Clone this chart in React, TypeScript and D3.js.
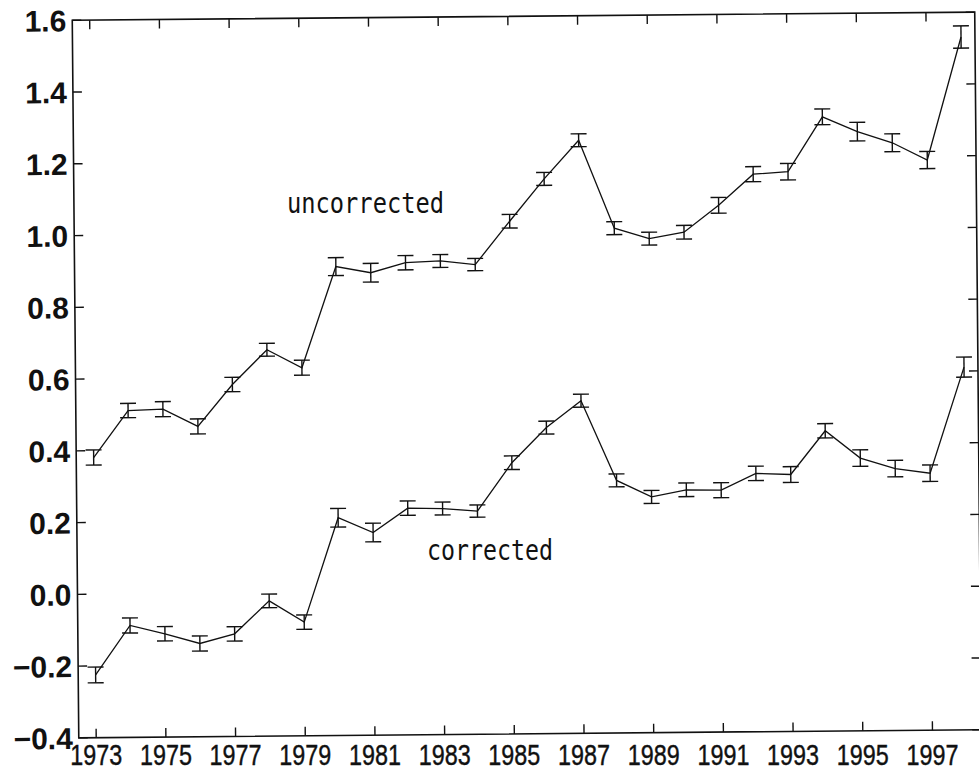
import React from "react";
import * as d3 from "d3";

// yearly values
const years = [
  1973, 1974, 1975, 1976, 1977, 1978, 1979, 1980, 1981, 1982, 1983, 1984, 1985,
  1986, 1987, 1988, 1989, 1990, 1991, 1992, 1993, 1994, 1995, 1996, 1997, 1998,
];
const uncorrected = [
  0.381, 0.511, 0.514, 0.465, 0.581, 0.677, 0.626, 0.907, 0.889, 0.916, 0.92,
  0.909, 1.029, 1.146, 1.253, 1.007, 0.977, 0.994, 1.068, 1.154, 1.16, 1.312,
  1.27, 1.238, 1.189, 1.531,
];
const uncorrectedErr = [
  0.021, 0.02, 0.021, 0.021, 0.02, 0.018, 0.021, 0.025, 0.026, 0.02, 0.018,
  0.017, 0.019, 0.018, 0.018, 0.018, 0.018, 0.019, 0.022, 0.021, 0.023, 0.022,
  0.026, 0.025, 0.024, 0.031,
];
const corrected = [
  -0.225, -0.088, -0.112, -0.14, -0.114, -0.023, -0.083, 0.207, 0.165, 0.232,
  0.23, 0.222, 0.356, 0.453, 0.527, 0.304, 0.257, 0.276, 0.274, 0.32, 0.316,
  0.437, 0.36, 0.33, 0.316, 0.611,
];
const correctedErr = [
  0.022, 0.021, 0.02, 0.021, 0.02, 0.019, 0.02, 0.026, 0.026, 0.02, 0.018,
  0.017, 0.019, 0.018, 0.018, 0.018, 0.018, 0.019, 0.021, 0.02, 0.022, 0.02,
  0.023, 0.023, 0.023, 0.028,
];
const xTickYears = [
  1973, 1975, 1977, 1979, 1981, 1983, 1985, 1987, 1989, 1991, 1993, 1995, 1997,
];
const yTicks = [-0.4, -0.2, 0, 0.2, 0.4, 0.6, 0.8, 1.0, 1.2, 1.4, 1.6];

const W = 979;
const H = 773;
const plot = { left: 75.5, right: 978, top: 16.2, bottom: 733.8 };
// the scanned figure sits slightly tilted
const tilt = -0.52;
const cx = (plot.left + plot.right) / 2;
const cy = (plot.top + plot.bottom) / 2;

const x = d3.scaleLinear().domain([1972.5, 1998.4]).range([plot.left, plot.right]);
const y = d3.scaleLinear().domain([-0.4, 1.6]).range([plot.bottom, plot.top]);

const rad = (tilt * Math.PI) / 180;
const rotX = (px: number, py: number) =>
  cx + (px - cx) * Math.cos(rad) - (py - cy) * Math.sin(rad);

const fmt = d3.format(".1f");
const tickLen = 9;
const capW = 8;
const ink = "#111";

type Pt = { year: number; v: number; e: number };

const Series = ({ pts }: { pts: Pt[] }) => {
  const line = d3
    .line<Pt>()
    .x((d) => x(d.year))
    .y((d) => y(d.v));
  return (
    <g>
      <path d={line(pts) || ""} fill="none" stroke={ink} strokeWidth={1.3} />
      {pts.map((d) => (
        <g key={d.year} stroke={ink} strokeWidth={1.4}>
          <line x1={x(d.year)} x2={x(d.year)} y1={y(d.v - d.e)} y2={y(d.v + d.e)} />
          <line x1={x(d.year) - capW} x2={x(d.year) + capW} y1={y(d.v + d.e)} y2={y(d.v + d.e)} />
          <line x1={x(d.year) - capW} x2={x(d.year) + capW} y1={y(d.v - d.e)} y2={y(d.v - d.e)} />
        </g>
      ))}
    </g>
  );
};

export default function App() {
  const upper = years.map((year, i) => ({ year, v: uncorrected[i], e: uncorrectedErr[i] }));
  const lower = years.map((year, i) => ({ year, v: corrected[i], e: correctedErr[i] }));

  return (
    <svg
      width={W}
      height={H}
      style={{ position: "absolute", left: 0, top: 0, background: "#fff" }}
    >
      <g transform={`rotate(${tilt} ${cx} ${cy})`}>
        {/* frame */}
        <rect
          x={plot.left}
          y={plot.top}
          width={plot.right - plot.left}
          height={plot.bottom - plot.top}
          fill="none"
          stroke={ink}
          strokeWidth={1.6}
        />
        {/* ticks, all pointing inward */}
        <g stroke={ink} strokeWidth={1.4}>
          {xTickYears.map((yr) => (
            <g key={yr}>
              <line x1={x(yr)} x2={x(yr)} y1={plot.bottom} y2={plot.bottom - tickLen} />
              <line x1={x(yr)} x2={x(yr)} y1={plot.top} y2={plot.top + tickLen} />
            </g>
          ))}
          {yTicks.map((v) => (
            <g key={v}>
              <line x1={plot.left} x2={plot.left + tickLen} y1={y(v)} y2={y(v)} />
              <line x1={plot.right} x2={plot.right - tickLen} y1={y(v)} y2={y(v)} />
            </g>
          ))}
        </g>
        {/* y tick labels */}
        <g
          fontFamily="'Liberation Sans', Arial, sans-serif"
          fontWeight="bold"
          fontSize={30}
          fill={ink}
          textAnchor="end"
        >
          {yTicks.map((v) => (
            <text key={v} x={plot.left - 6} y={y(v) + 11}>
              {fmt(v)}
            </text>
          ))}
        </g>
        <Series pts={upper} />
        <Series pts={lower} />
      </g>

      {/* x tick labels, condensed */}
      <g
        fontFamily="'Liberation Sans', Arial, sans-serif"
        fontSize={29}
        fill={ink}
        textAnchor="middle"
        stroke={ink}
        strokeWidth={0.4}
      >
        {xTickYears.map((yr) => (
          <text
            key={yr}
            x={rotX(x(yr), plot.bottom)}
            y={765}
            textLength={52}
            lengthAdjust="spacingAndGlyphs"
          >
            {yr}
          </text>
        ))}
      </g>

      {/* series annotations */}
      <g fontFamily="'DejaVu Sans Mono', monospace" fontSize={28} fill={ink}>
        <text x={287} y={213} textLength={157} lengthAdjust="spacingAndGlyphs">
          uncorrected
        </text>
        <text x={427} y={560} textLength={126} lengthAdjust="spacingAndGlyphs">
          corrected
        </text>
      </g>
    </svg>
  );
}
